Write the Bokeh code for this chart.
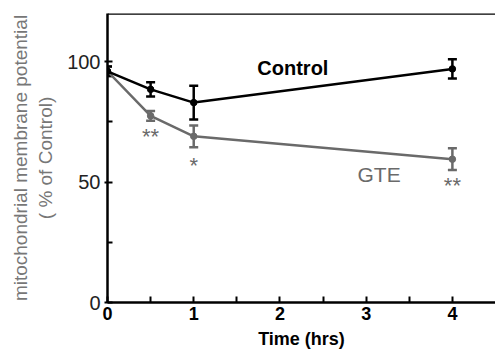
from bokeh.plotting import figure
from bokeh.models import ColumnDataSource, Whisker, Span, Label, FixedTicker, Range1d
from bokeh.core.properties import value
from bokeh.embed import file_html
from bokeh.resources import INLINE

# Data
time_hrs = [0, 0.5, 1, 4]
control_mean = [96, 88.5, 83, 97]
control_err = [2, 3, 7, 4]
gte_mean = [96, 77.5, 69, 59.5]
gte_err = [2, 2, 4.5, 4.5]

sig_x = [0.5, 1, 4]
sig_y = [69, 57, 48.5]
sig_text = ["**", "*", "**"]

x_ticks = [0, 1, 2, 3, 4]
y_ticks = [0, 50, 100]
x_max = 4.5
y_max = 120

GRAY = "#6a6a6a"
FONT = "Liberation Sans"

p = figure(width=495, height=351, output_backend="svg", toolbar_location=None,
           x_range=Range1d(0, x_max), y_range=Range1d(0, y_max),
           min_border_left=107, min_border_right=0, min_border_top=13,
           min_border_bottom=49)
p.grid.visible = False
p.outline_line_color = None
p.background_fill_color = "white"

# top frame line
p.add_layout(Span(location=y_max, dimension="width", line_color="black", line_width=2.5))

def err_src(x, m, e):
    return ColumnDataSource(dict(x=x, y=m,
                                 lo=[a - b for a, b in zip(m, e)],
                                 hi=[a + b for a, b in zip(m, e)]))

ctrl = err_src(time_hrs, control_mean, control_err)
gte = err_src(time_hrs, gte_mean, gte_err)

for src, col in [(gte, GRAY), (ctrl, "black")]:
    p.line("x", "y", source=src, line_color=col, line_width=2.5)
    p.scatter("x", "y", source=src, size=6.5, color=col)
    w = Whisker(base="x", lower="lo", upper="hi", source=src, line_color=col, line_width=2.5)
    w.upper_head.size = 9
    w.lower_head.size = 9
    w.upper_head.line_color = col
    w.lower_head.line_color = col
    w.upper_head.line_width = 2.5
    w.lower_head.line_width = 2.5
    p.add_layout(w)

sig = ColumnDataSource(dict(x=sig_x, y=sig_y, t=sig_text))
p.text("x", "y", text="t", source=sig, text_align="center", text_baseline="middle",
       text_font=value(FONT), text_font_size="22px", text_color=GRAY)

p.add_layout(Label(x=2.15, y=97.5, text="Control", text_align="center", text_baseline="middle",
                   text_font=FONT, text_font_size="20px", text_font_style="bold", text_color="black"))
p.add_layout(Label(x=3.15, y=53, text="GTE", text_align="center", text_baseline="middle",
                   text_font=FONT, text_font_size="21px", text_color=GRAY))

# axes
xa = p.xaxis[0]
xa.ticker = FixedTicker(ticks=x_ticks, minor_ticks=[0.5, 1.5, 2.5, 3.5])
xa.axis_line_width = 2.5
xa.major_tick_in = 6
xa.major_tick_out = 0
xa.minor_tick_in = 6
xa.minor_tick_out = 0
xa.major_tick_line_width = 2
xa.minor_tick_line_width = 2
xa.major_label_text_font = FONT
xa.major_label_text_font_size = "18px"
xa.major_label_text_font_style = "bold"
xa.major_label_text_color = "black"
xa.major_label_standoff = 4
xa.axis_label = "Time (hrs)"
xa.axis_label_text_font = FONT
xa.axis_label_text_font_size = "18px"
xa.axis_label_text_font_style = "bold"
xa.axis_label_text_color = "black"
xa.axis_label_standoff = 6

ya = p.yaxis[0]
ya.ticker = FixedTicker(ticks=y_ticks, minor_ticks=[25, 75])
ya.axis_line_width = 2.5
ya.major_tick_in = 5
ya.major_tick_out = 3
ya.minor_tick_in = 5
ya.minor_tick_out = 0
ya.major_tick_line_width = 2
ya.minor_tick_line_width = 2
ya.major_label_text_font = FONT
ya.major_label_text_font_size = "20px"
ya.major_label_text_color = "#222222"
ya.major_label_standoff = 4
ya.axis_label = "mitochondrial membrane potential\n( % of Control)"
ya.axis_label_text_font = FONT
ya.axis_label_text_font_size = "19px"
ya.axis_label_text_font_style = "normal"
ya.axis_label_text_color = "#777777"
ya.axis_label_standoff = 8

open("out.html", "w").write(file_html(p, INLINE))
